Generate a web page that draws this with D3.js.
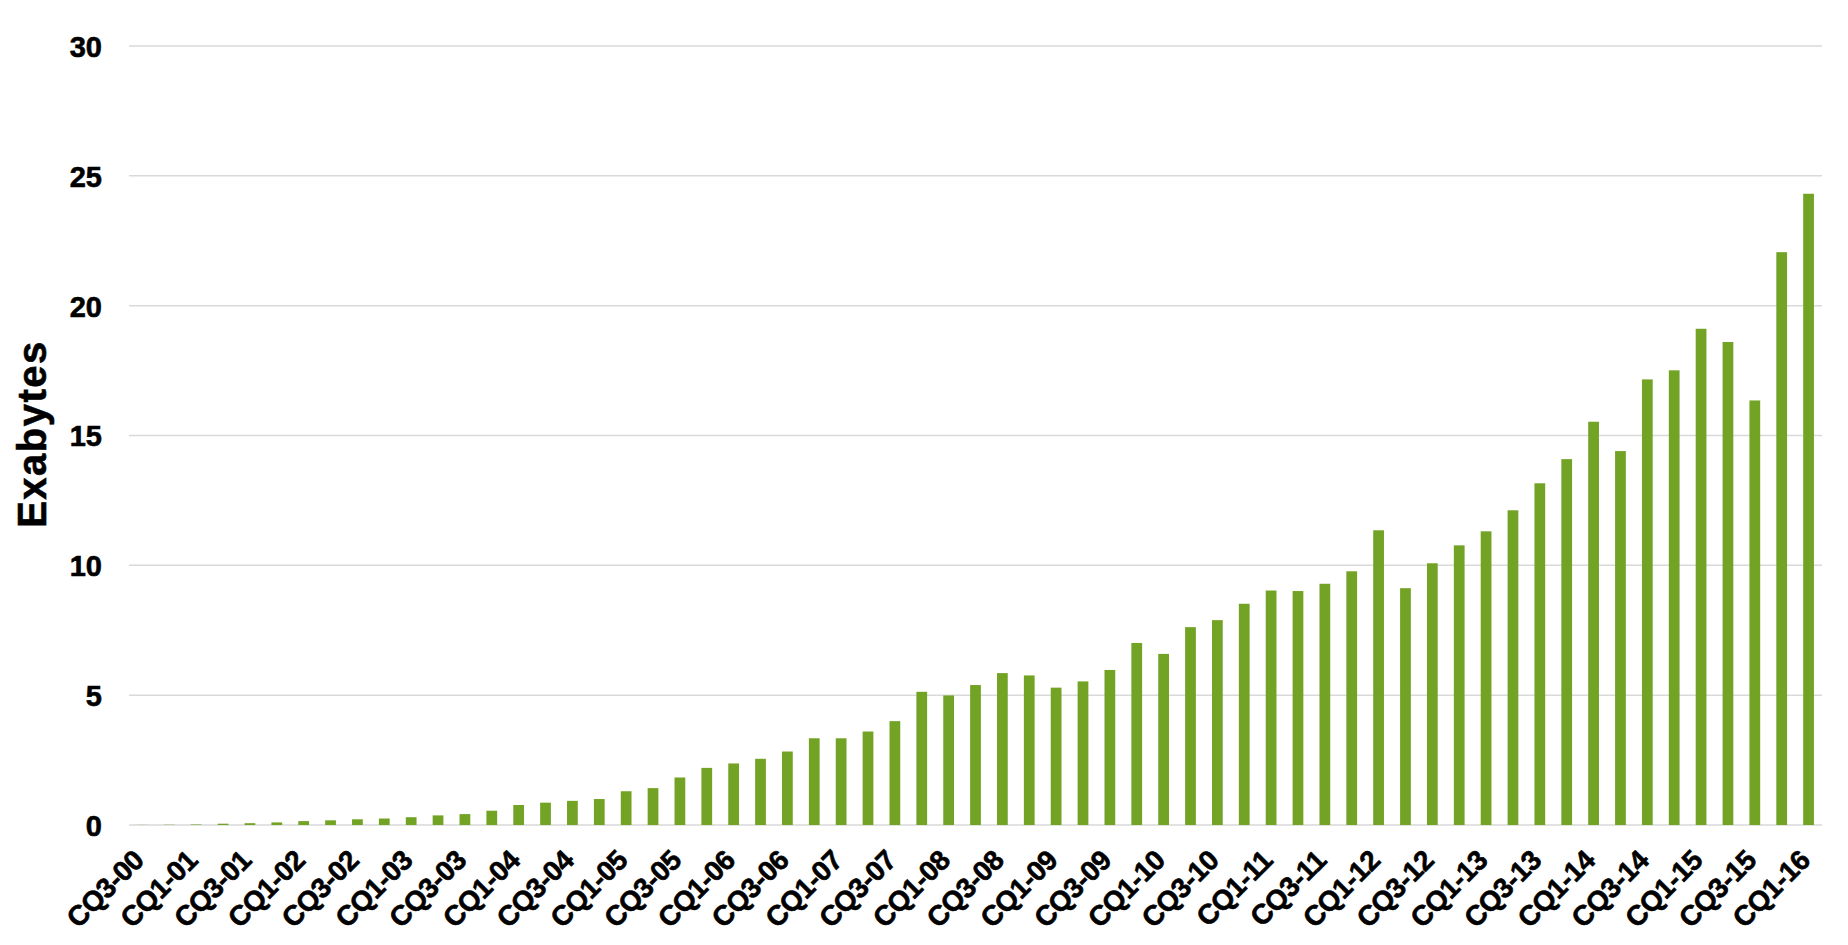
<!DOCTYPE html>
<html>
<head>
<meta charset="utf-8">
<script src="https://cdn.jsdelivr.net/npm/d3@7/dist/d3.min.js"></script>
<style>
  html, body { margin: 0; padding: 0; background: #fff; }
  svg { display: block; }
  text { font-family: "Liberation Sans", Arial, Helvetica, sans-serif; font-weight: bold; fill: #000; }
</style>
</head>
<body>
<svg id="chart" width="1848" height="945"></svg>
<script>
const quarters = [
  "CQ3-00","CQ4-00",
  "CQ1-01","CQ2-01","CQ3-01","CQ4-01",
  "CQ1-02","CQ2-02","CQ3-02","CQ4-02",
  "CQ1-03","CQ2-03","CQ3-03","CQ4-03",
  "CQ1-04","CQ2-04","CQ3-04","CQ4-04",
  "CQ1-05","CQ2-05","CQ3-05","CQ4-05",
  "CQ1-06","CQ2-06","CQ3-06","CQ4-06",
  "CQ1-07","CQ2-07","CQ3-07","CQ4-07",
  "CQ1-08","CQ2-08","CQ3-08","CQ4-08",
  "CQ1-09","CQ2-09","CQ3-09","CQ4-09",
  "CQ1-10","CQ2-10","CQ3-10","CQ4-10",
  "CQ1-11","CQ2-11","CQ3-11","CQ4-11",
  "CQ1-12","CQ2-12","CQ3-12","CQ4-12",
  "CQ1-13","CQ2-13","CQ3-13","CQ4-13",
  "CQ1-14","CQ2-14","CQ3-14","CQ4-14",
  "CQ1-15","CQ2-15","CQ3-15","CQ4-15",
  "CQ1-16"
];
const exabytes = [
  0.005, 0.01,
  0.02, 0.05, 0.07, 0.10,
  0.15, 0.18, 0.22, 0.25,
  0.30, 0.37, 0.42, 0.55,
  0.77, 0.86, 0.93, 1.00,
  1.30, 1.42, 1.83, 2.20,
  2.37, 2.55, 2.83, 3.34,
  3.34, 3.60, 4.00, 5.13,
  4.99, 5.39, 5.85, 5.76,
  5.29, 5.53, 5.97, 7.01,
  6.59, 7.62, 7.89, 8.52,
  9.03, 9.01, 9.29, 9.77,
  11.35, 9.12, 10.08, 10.77,
  11.31, 12.12, 13.16, 14.09,
  15.53, 14.40, 17.16, 17.51,
  19.11, 18.60, 16.35, 22.06,
  24.31
];
const yTicks = [0, 5, 10, 15, 20, 25, 30];
const xTickLabels = quarters.filter((d, i) => i % 2 === 0);
const yTitle = "Exabytes";

const svg = d3.select("#chart");
const margin = { left: 129, right: 1848 - 1822, top: 46, bottom: 945 - 825 };
const W = 1848, H = 945;

const x = d3.scaleBand()
  .domain(quarters)
  .range([margin.left, W - margin.right])
  .paddingInner(0.6)
  .paddingOuter(0.3);

const y = d3.scaleLinear()
  .domain([0, 30])
  .range([H - margin.bottom, margin.top]);

// gridlines
svg.append("g")
  .selectAll("line")
  .data(yTicks)
  .join("line")
  .attr("x1", margin.left)
  .attr("x2", W - margin.right)
  .attr("y1", d => y(d))
  .attr("y2", d => y(d))
  .attr("stroke", "#d9d9d9")
  .attr("stroke-width", 1.5);

// bars
svg.append("g")
  .selectAll("rect")
  .data(quarters.map((q, i) => ({ q, v: exabytes[i] })))
  .join("rect")
  .attr("x", d => x(d.q))
  .attr("width", x.bandwidth())
  .attr("y", d => y(d.v))
  .attr("height", d => y(0) - y(d.v))
  .attr("fill", "#73a324");

// y axis labels
const yAxis = d3.axisLeft(y).tickValues(yTicks).tickSize(0).tickPadding(0);
const gy = svg.append("g")
  .attr("transform", `translate(${102},0)`)
  .call(yAxis);
gy.select(".domain").remove();
gy.selectAll("text")
  .attr("font-size", 29)
  .attr("font-family", "'Liberation Sans', Arial, sans-serif")
  .attr("font-weight", "bold")
  .attr("fill", "#000")
  .attr("stroke", "#000")
  .attr("stroke-width", 0.6)
  .attr("dy", "0.36em");

// x axis labels
const xAxis = d3.axisBottom(x).tickValues(xTickLabels).tickSize(0).tickPadding(0);
const gx = svg.append("g")
  .attr("transform", `translate(0,${y(0)})`)
  .call(xAxis);
gx.select(".domain").remove();
gx.selectAll(".tick text")
  .attr("font-size", 28)
  .attr("letter-spacing", "-0.5px")
  .attr("font-family", "'Liberation Sans', Arial, sans-serif")
  .attr("font-weight", "bold")
  .attr("fill", "#000")
  .attr("stroke", "#000")
  .attr("stroke-width", 0.6)
  .attr("text-anchor", "end")
  .attr("dy", null)
  .attr("y", 0)
  .attr("transform", "translate(3,37) rotate(-45)");

// y title
svg.append("text")
  .attr("transform", `translate(${46},${434}) rotate(-90)`)
  .attr("text-anchor", "middle")
  .attr("font-size", 40)
  .attr("letter-spacing", "1.5px")
  .attr("stroke", "#000")
  .attr("stroke-width", 0.6)
  .text(yTitle);
</script>
</body>
</html>
